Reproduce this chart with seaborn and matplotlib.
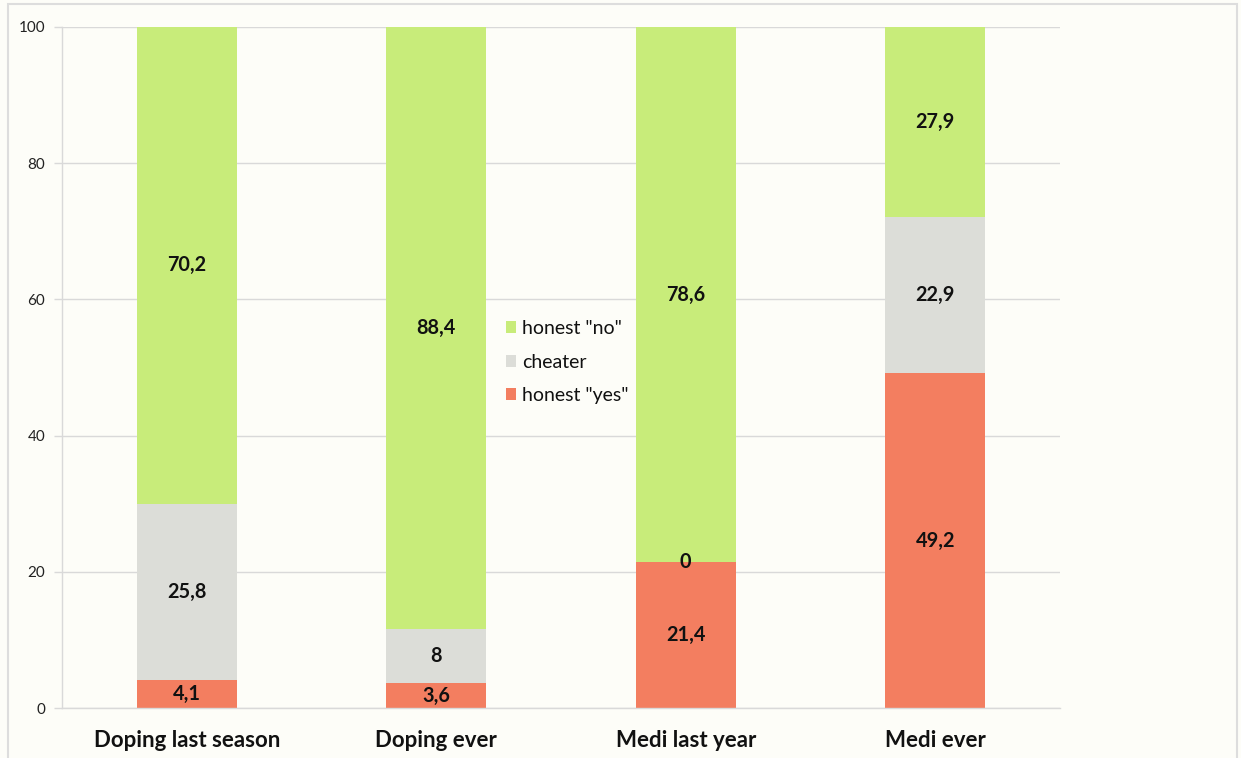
import matplotlib
matplotlib.use("Agg")
import matplotlib.pyplot as plt
from matplotlib.patches import Rectangle, Patch
import seaborn as sns
import numpy as np

categories = ["Doping last season", "Doping ever", "Medi last year", "Medi ever"]
honest_yes = [4.1, 3.6, 21.4, 49.2]
cheater = [25.8, 8, 0, 22.9]
honest_no = [70.2, 88.4, 78.6, 27.9]
series_names = ['honest "yes"', "cheater", 'honest "no"']
y_ticks = [0, 20, 40, 60, 80, 100]

colors = ["#f37e60", "#dcddd8", "#c8ec7a"]
bg = "#fdfdf8"

sns.set_theme(style="white")
plt.rcParams["font.family"] = ["Lato", "DejaVu Sans"]

fig = plt.figure(figsize=(12.41, 7.58), dpi=100, facecolor=bg)
ax = fig.add_axes([62 / 1241, 1 - 708 / 758, 998 / 1241, 681 / 758])
ax.set_facecolor(bg)

# outer frame of the figure
fig.patches.append(Rectangle((8 / 1241, -0.01), 1229 / 1241, 1 - 4 / 758 + 0.01,
                             transform=fig.transFigure, fill=False,
                             edgecolor="#dddddd", linewidth=1.5, zorder=0))

layers = [honest_yes, cheater, honest_no]
bottom = np.zeros(len(categories))
for name, vals, col in zip(series_names, layers, colors):
    sns.barplot(x=categories, y=vals, bottom=bottom, color=col, width=0.4,
                ax=ax, zorder=3, linewidth=0, saturation=1)
    for i, v in enumerate(vals):
        ax.text(i, bottom[i] + v / 2, f"{v:g}".replace(".", ","),
                ha="center", va="center", fontsize=14.3, fontweight="bold",
                color="#111111", zorder=5)
    bottom = bottom + np.array(vals)

ax.set_ylim(0, 100)
ax.set_xlim(-0.5, len(categories) - 0.5)
ax.set_yticks(y_ticks)
ax.set_yticklabels([str(t) for t in y_ticks], fontsize=11, color="#222222")
ax.yaxis.grid(True, color="#d9d9d9", linewidth=1, zorder=0)
ax.set_axisbelow(True)

# category labels, with tick marks at the category boundaries
ax.set_xticks(range(len(categories)))
ax.set_xticklabels(categories, fontsize=16, fontweight="bold", color="#111111")
ax.tick_params(axis="x", length=0, pad=16)
ax.set_xticks(np.arange(0.5, len(categories) - 0.5, 1), minor=True)
ax.tick_params(axis="x", which="minor", length=7, color="#d9d9d9", width=1)
ax.tick_params(axis="y", length=6, color="#d9d9d9", width=1, pad=6, left=True)

for side in ["top", "right"]:
    ax.spines[side].set_visible(False)
for side in ["left", "bottom"]:
    ax.spines[side].set_color("#d9d9d9")
    ax.spines[side].set_linewidth(1)
    ax.spines[side].set_zorder(4)

handles = [Patch(facecolor=c, edgecolor="none") for c in colors][::-1]
leg = ax.legend(handles, series_names[::-1], loc="center left",
                bbox_to_anchor=(436 / 998, 0.508), frameon=False, fontsize=14,
                handlelength=0.55, handleheight=0.55, handletextpad=0.3,
                labelspacing=0.85, borderaxespad=0)
for t in leg.get_texts():
    t.set_color("#111111")

fig.savefig("out.png", dpi=100, facecolor=bg)
